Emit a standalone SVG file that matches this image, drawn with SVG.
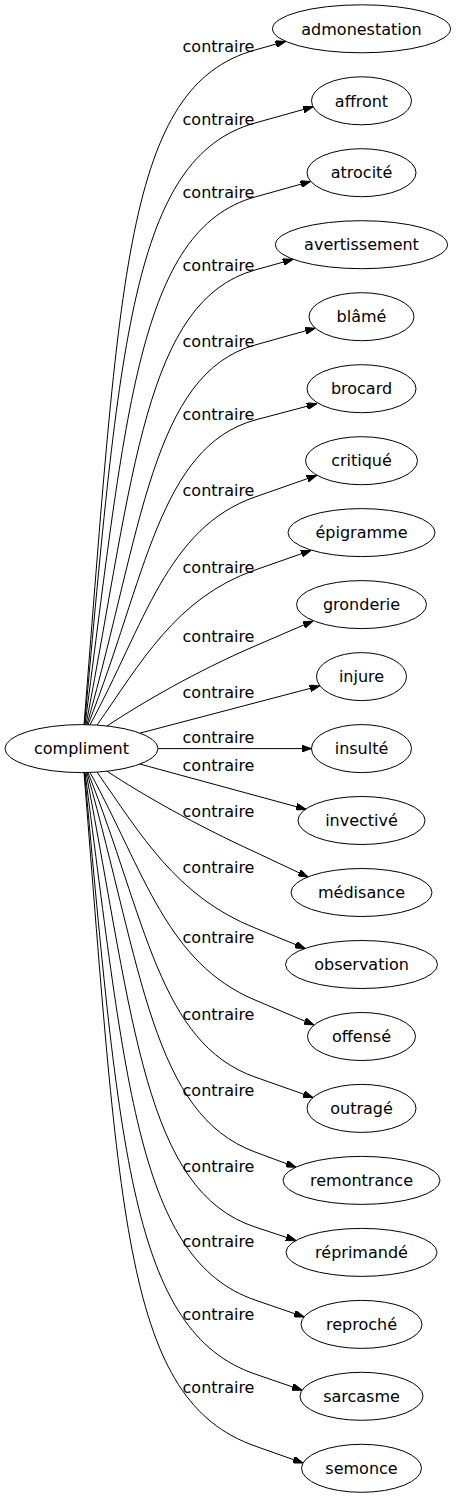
<svg xmlns="http://www.w3.org/2000/svg" width="457" height="1499" viewBox="0 0 457 1499">
<style>
.n ellipse{fill:none;stroke:#000;stroke-width:1}
.n text{font-family:"DejaVu Sans",sans-serif;font-size:16px;text-anchor:middle;fill:#000}
.e path{fill:none;stroke:#000;stroke-width:1;marker-end:url(#ah)}
.e text{font-family:"DejaVu Sans",sans-serif;font-size:16px;text-anchor:middle;fill:#000}
</style>
<defs>
<marker id="ah" viewBox="0 0 10 7" refX="10" refY="3.5" markerWidth="10" markerHeight="7" markerUnits="userSpaceOnUse" orient="auto">
<path d="M0,0 L10,3.5 L0,7 Z" fill="#000" stroke="#000" stroke-width="1"/>
</marker>
</defs>
<rect width="457" height="1499" fill="#fff"/>
<g id="edges" class="e">
<path d="M84,724.6 C120,275 125,86.4 255,50 L285.6,41.4"/>
<text x="218.5" y="52">contraire</text>
<path d="M84.5,724.6 C119.3,346.3 131.7,157.5 255,123 L313,106.8"/>
<text x="218.5" y="125">contraire</text>
<path d="M85,724.6 C125.9,413 138.4,229.6 255,197 L310.5,181.5"/>
<text x="218.5" y="198.3">contraire</text>
<path d="M86,724.7 C134.1,473 145.1,300.8 255,270 L292.8,259.4"/>
<text x="218.5" y="270.7">contraire</text>
<path d="M87,724.7 C142,529.3 152.2,373.8 255,345 L315.1,328.2"/>
<text x="218.5" y="346.7">contraire</text>
<path d="M88,724.7 C145.5,579.8 159.1,446.9 255,420 L316.8,403.7"/>
<text x="218.5" y="420">contraire</text>
<path d="M90,724.8 C144.1,625.6 166.7,527.9 255,497 L316.7,475.4"/>
<text x="218.5" y="496">contraire</text>
<path d="M97,725.1 C140.5,663.3 176,597.7 255,570 L311,550.4"/>
<text x="218.5" y="572.7">contraire</text>
<path d="M107,726 C142.9,702.3 195.8,671.5 255,646 L313,621"/>
<text x="218.5" y="641.7">contraire</text>
<path d="M140,733.1 L319.7,685.9"/>
<text x="218.5" y="698.3">contraire</text>
<path d="M158,748.6 L311.5,748.6"/>
<text x="218.5" y="743.3">contraire</text>
<path d="M140,764.1 L306,809.3"/>
<text x="218.5" y="770.7">contraire</text>
<path d="M107,771.2 C142.9,794.9 195.8,825 255,852 L308,877"/>
<text x="218.5" y="816.7">contraire</text>
<path d="M97,772.1 C140.5,833.9 176,896.4 255,928 L305,948.4"/>
<text x="218.5" y="873.3">contraire</text>
<path d="M90,772.4 C144.1,871.6 166.7,962.9 255,1000 L314,1025"/>
<text x="218.5" y="943.3">contraire</text>
<path d="M88,772.5 C145.5,917.4 159.1,1043.4 255,1077 L313,1097.5"/>
<text x="218.5" y="1020">contraire</text>
<path d="M87,772.5 C142,967.9 152.2,1114 255,1152 L296,1167.2"/>
<text x="218.5" y="1096">contraire</text>
<path d="M86,772.5 C134.1,1024.2 145.1,1190.7 255,1227 L296,1240.5"/>
<text x="218.5" y="1171.7">contraire</text>
<path d="M85,772.6 C125.9,1084.2 138.4,1259.8 255,1300 L304,1316.9"/>
<text x="218.5" y="1246.7">contraire</text>
<path d="M84.5,772.6 C119.3,1150.9 131.7,1331.5 255,1374 L302,1390.2"/>
<text x="218.5" y="1320">contraire</text>
<path d="M84,772.6 C120,1222.2 125,1400 255,1446 L303,1463"/>
<text x="218.5" y="1393.3">contraire</text>
</g>
<g id="compliment" class="n"><ellipse cx="81.5" cy="748.6" rx="76.5" ry="24"/><text x="81.5" y="754.3">compliment</text></g>
<g id="admonestation" class="n"><ellipse cx="361.5" cy="28.8" rx="89" ry="24"/><text x="361.5" y="34.5">admonestation</text></g>
<g id="affront" class="n"><ellipse cx="361.5" cy="100.8" rx="50" ry="24"/><text x="361.5" y="106.5">affront</text></g>
<g id="atrocite" class="n"><ellipse cx="361.5" cy="172.7" rx="54.5" ry="24"/><text x="361.5" y="178.4">atrocité</text></g>
<g id="avertissement" class="n"><ellipse cx="361.5" cy="244.7" rx="86" ry="24"/><text x="361.5" y="250.4">avertissement</text></g>
<g id="blame" class="n"><ellipse cx="361.5" cy="316.7" rx="52.5" ry="24"/><text x="361.5" y="322.4">blâmé</text></g>
<g id="brocard" class="n"><ellipse cx="361.5" cy="388.7" rx="54.5" ry="24"/><text x="361.5" y="394.4">brocard</text></g>
<g id="critique" class="n"><ellipse cx="361.5" cy="460.7" rx="56" ry="24"/><text x="361.5" y="466.4">critiqué</text></g>
<g id="epigramme" class="n"><ellipse cx="361.5" cy="532.6" rx="73.5" ry="24"/><text x="361.5" y="538.3">épigramme</text></g>
<g id="gronderie" class="n"><ellipse cx="361.5" cy="604.6" rx="65" ry="24"/><text x="361.5" y="610.3">gronderie</text></g>
<g id="injure" class="n"><ellipse cx="361.5" cy="676.6" rx="45" ry="24"/><text x="361.5" y="682.3">injure</text></g>
<g id="insulte" class="n"><ellipse cx="361.5" cy="748.6" rx="50" ry="24"/><text x="361.5" y="754.3">insulté</text></g>
<g id="invective" class="n"><ellipse cx="361.5" cy="820.5" rx="63.5" ry="24"/><text x="361.5" y="826.2">invectivé</text></g>
<g id="medisance" class="n"><ellipse cx="361.5" cy="892.5" rx="70.5" ry="24"/><text x="361.5" y="898.2">médisance</text></g>
<g id="observation" class="n"><ellipse cx="361.5" cy="964.5" rx="76" ry="24"/><text x="361.5" y="970.2">observation</text></g>
<g id="offense" class="n"><ellipse cx="361.5" cy="1036.5" rx="54" ry="24"/><text x="361.5" y="1042.2">offensé</text></g>
<g id="outrage" class="n"><ellipse cx="361.5" cy="1108.4" rx="54.5" ry="24"/><text x="361.5" y="1114.1">outragé</text></g>
<g id="remontrance" class="n"><ellipse cx="361.5" cy="1180.4" rx="78.5" ry="24"/><text x="361.5" y="1186.1">remontrance</text></g>
<g id="reprimande" class="n"><ellipse cx="361.5" cy="1252.4" rx="75.5" ry="24"/><text x="361.5" y="1258.1">réprimandé</text></g>
<g id="reproche" class="n"><ellipse cx="361.5" cy="1324.4" rx="60.5" ry="24"/><text x="361.5" y="1330.1">reproché</text></g>
<g id="sarcasme" class="n"><ellipse cx="361.5" cy="1396.3" rx="61.5" ry="24"/><text x="361.5" y="1402">sarcasme</text></g>
<g id="semonce" class="n"><ellipse cx="361.5" cy="1468.3" rx="60" ry="24"/><text x="361.5" y="1474">semonce</text></g>
</svg>
